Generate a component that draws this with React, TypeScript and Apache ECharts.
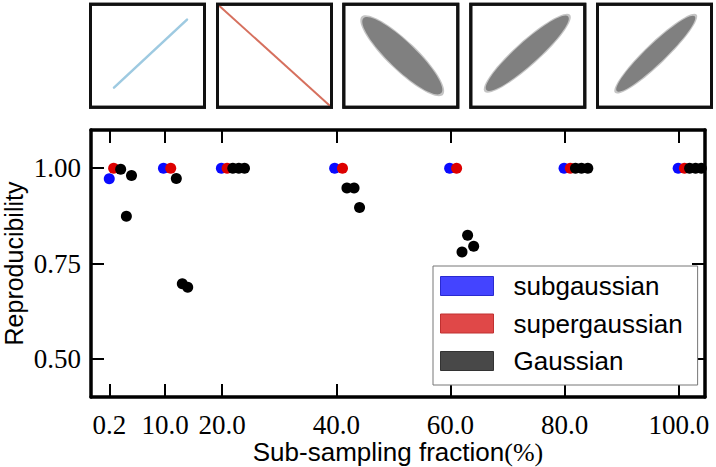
import { useEffect, useRef } from "react";
import * as echarts from "echarts";

// tick positions on the sub-sampling axis
const fractionTicks = [0.2, 10, 20, 40, 60, 80, 100];
const fractionLabels = ["0.2", "10.0", "20.0", "40.0", "60.0", "80.0", "100.0"];
const reproTicks = [0.5, 0.75, 1.0];

// points are drawn side by side at each fraction (as in the figure)
const subX = [0.2, 9.7, 19.85, 39.7, 59.85, 79.9, 99.9];
const subY = [0.972, 1, 1, 1, 1, 1, 1];
const superX = [0.97, 10.97, 20.85, 41.07, 61.07, 81.0, 101.0];
const superY = [1, 1, 1, 1, 1, 1, 1];
const gaussX = [
  2.2, 3.2, 4.1, 11.95, 13.0, 13.95, 21.85, 22.9, 23.9, 41.85, 43.1, 44.06,
  62.02, 63.0, 64.06, 81.9, 82.95, 84.06, 101.9, 102.95, 103.95,
];
const gaussY = [
  0.997, 0.874, 0.981, 0.973, 0.697, 0.6875, 1, 1, 1, 0.948, 0.948, 0.897,
  0.78, 0.824, 0.795, 1, 1, 1, 1, 1, 1,
];

const seriesNames = ["subgaussian", "supergaussian", "Gaussian"];

const SANS = "Liberation Sans, Arial, sans-serif";
const SERIF = "Liberation Serif, Times New Roman, serif";

const zip = (xs: number[], ys: number[]) => xs.map((x, i) => [x, ys[i]]);

// small inset panels above the main plot
const panelLefts = [90.5, 217.5, 343.8, 470.8, 597.5];
const PANEL_TOP = 4.2;
const PANEL_W = 114;
const PANEL_H = 103;

const cloud = (cx: number, cy: number, rx: number, ry: number, rot: number) => [
  {
    type: "ellipse",
    x: cx,
    y: cy,
    rotation: rot,
    shape: { cx: 0, cy: 0, rx: rx + 2.5, ry: ry + 1.2 },
    style: { fill: "#8a8a8a", opacity: 0.5 },
  },
  {
    type: "ellipse",
    x: cx,
    y: cy,
    rotation: rot,
    shape: { cx: 0, cy: 0, rx, ry },
    style: { fill: "#808080" },
  },
];

const panelContent: any[][] = [
  [
    {
      type: "line",
      shape: { x1: 23.5, y1: 83.5, x2: 96.5, y2: 15.5 },
      style: { stroke: "#9ecae1", lineWidth: 2.5, lineCap: "round" },
    },
  ],
  [
    {
      type: "line",
      shape: { x1: 0, y1: 0, x2: PANEL_W, y2: PANEL_H },
      style: { stroke: "#d6705e", lineWidth: 2 },
    },
  ],
  cloud(58.5, 51.5, 54, 13.5, -0.766),
  cloud(56.5, 49, 55, 11, 0.733),
  cloud(58.3, 49.5, 54, 9.5, 0.765),
];

const App = () => {
  const chartRef = useRef<HTMLDivElement>(null);

  useEffect(() => {
    document.body.style.margin = "0";
    if (!chartRef.current) return;
    const chart = echarts.init(chartRef.current, null, { renderer: "svg" });

    const frameLine = { onZero: false, lineStyle: { color: "#000", width: 3.5 } };
    const tickStyle = { inside: true, length: 13, lineStyle: { color: "#000", width: 2 } };

    const graphic = panelLefts.map((left, i) => ({
      type: "group",
      x: left,
      y: PANEL_TOP,
      children: [
        {
          type: "rect",
          shape: { x: 0, y: 0, width: PANEL_W, height: PANEL_H },
          style: { fill: "#fff", stroke: "#111", lineWidth: 3 },
        },
        ...panelContent[i],
        {
          type: "rect",
          shape: { x: 0, y: 0, width: PANEL_W, height: PANEL_H },
          style: { fill: "none", stroke: "#111", lineWidth: 3 },
        },
      ],
    }));

    const option: any = {
      animation: false,
      backgroundColor: "#fff",
      grid: {
        left: 91,
        top: 130,
        right: 11,
        bottom: 70,
        containLabel: false,
        outerBoundsMode: "none",
      },
      graphic,
      legend: {
        orient: "vertical",
        left: 433,
        top: 266,
        itemWidth: 53,
        itemHeight: 19,
        itemGap: 11.5,
        padding: [7, 15, 11, 7],
        borderColor: "#777",
        borderWidth: 1,
        backgroundColor: "#fff",
        icon: "rect",
        textStyle: {
          fontFamily: SANS,
          fontSize: 26,
          color: "#000",
          padding: [0, 0, 0, 15],
        },
        data: [
          { name: seriesNames[0], itemStyle: { color: "#4444ff", borderColor: "#2a2ad0", borderWidth: 1 } },
          { name: seriesNames[1], itemStyle: { color: "#e04848", borderColor: "#c03030", borderWidth: 1 } },
          { name: seriesNames[2], itemStyle: { color: "#484848", borderColor: "#333", borderWidth: 1 } },
        ],
      },
      xAxis: [
        {
          type: "value",
          min: -3,
          max: 104.6,
          position: "bottom",
          axisLine: frameLine,
          axisTick: { ...tickStyle, customValues: fractionTicks },
          axisLabel: {
            customValues: fractionTicks,
            formatter: (v: number) => fractionLabels[fractionTicks.indexOf(v)] ?? "",
            fontFamily: SERIF,
            fontSize: 27,
            color: "#000",
            margin: 14,
          },
          splitLine: { show: false },
          name: "Sub-sampling fraction{p|(%)}",
          nameLocation: "middle",
          nameGap: 42,
          nameMoveOverlap: false,
          nameTextStyle: {
            fontFamily: SANS,
            fontSize: 26,
            color: "#000",
            rich: { p: { fontFamily: SERIF, fontSize: 26, color: "#000" } },
          },
        },
        {
          type: "value",
          min: -3,
          max: 104.6,
          position: "top",
          axisLine: frameLine,
          axisTick: { ...tickStyle, customValues: fractionTicks },
          axisLabel: { show: false },
          splitLine: { show: false },
        },
      ],
      yAxis: [
        {
          type: "value",
          min: 0.4,
          max: 1.1,
          position: "left",
          axisLine: frameLine,
          axisTick: { ...tickStyle, customValues: reproTicks },
          axisLabel: {
            customValues: reproTicks,
            formatter: (v: number) => v.toFixed(2),
            fontFamily: SERIF,
            fontSize: 27,
            color: "#000",
            margin: 10,
          },
          splitLine: { show: false },
          name: "Reproducibility",
          nameLocation: "middle",
          nameRotate: 90,
          nameGap: 65,
          nameMoveOverlap: false,
          nameTextStyle: { fontFamily: SANS, fontSize: 25, lineHeight: 24, color: "#000" },
        },
        {
          type: "value",
          min: 0.4,
          max: 1.1,
          position: "right",
          axisLine: frameLine,
          axisTick: { ...tickStyle, customValues: reproTicks },
          axisLabel: { show: false },
          splitLine: { show: false },
        },
      ],
      series: [
        {
          name: seriesNames[0],
          type: "scatter",
          symbolSize: 11,
          itemStyle: { color: "#0a0aff", opacity: 1 },
          data: zip(subX, subY),
        },
        {
          name: seriesNames[1],
          type: "scatter",
          symbolSize: 11,
          itemStyle: { color: "#dd0000", opacity: 1 },
          data: zip(superX, superY),
        },
        {
          name: seriesNames[2],
          type: "scatter",
          symbolSize: 11,
          itemStyle: { color: "#000", opacity: 1 },
          data: zip(gaussX, gaussY),
        },
      ],
    };

    chart.setOption(option);
    return () => {
      chart.dispose();
    };
  }, []);

  return <div ref={chartRef} style={{ width: "716px", height: "467px" }} />;
};

export default App;
